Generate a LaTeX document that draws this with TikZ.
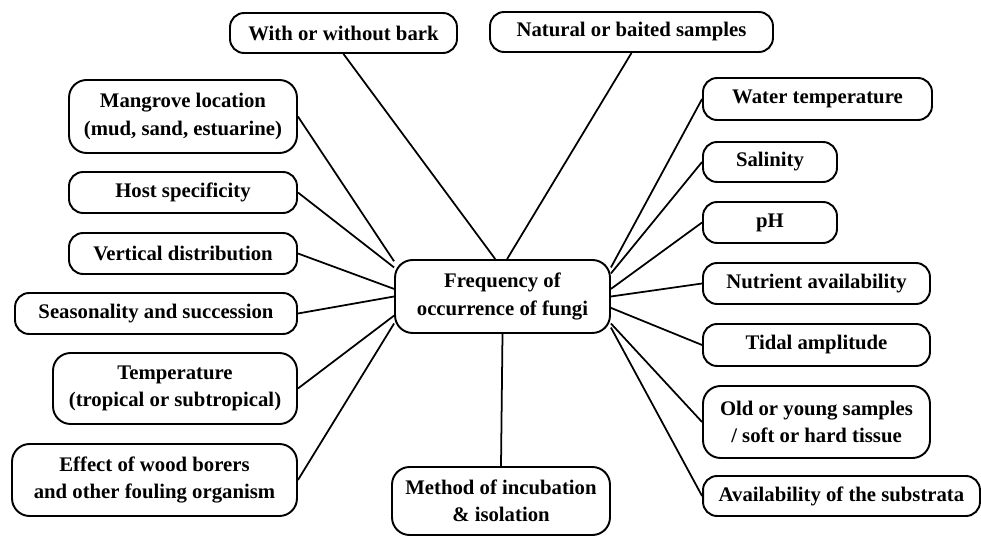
\documentclass[tikz,border=0pt]{standalone}
\usepackage{fontspec}
\setmainfont{Liberation Serif}
\usetikzlibrary{positioning}

\begin{document}
\begin{tikzpicture}[x=0.02cm,y=-0.02cm,line width=1.1pt]
\tikzset{factor/.style={draw,rounded corners=8pt,align=center,inner sep=2pt,
  font=\fontsize{11.8}{15.4}\selectfont\bfseries},
  link/.style={line width=1pt}}
\useasboundingbox (0,0) rectangle (981,536);
% centre
\node[factor,minimum width=4.3cm,minimum height=1.46cm,rounded corners=10pt] (freq) at (502.5,296.5) {Frequency of\\occurrence of fungi};
% top
\node[factor,minimum width=4.54cm,minimum height=0.8cm] (bark) at (343.5,33) {With or without bark};
\node[factor,minimum width=5.66cm,minimum height=0.8cm] (bait) at (631.5,32) {Natural or baited samples};
% left column
\node[factor,minimum width=4.56cm,minimum height=1.46cm,rounded corners=10pt] (mangrove) at (183,116.5) {Mangrove location\\(mud, sand, estuarine)};
\node[factor,minimum width=4.56cm,minimum height=0.82cm] (host) at (183,192.5) {Host specificity};
\node[factor,minimum width=4.56cm,minimum height=0.82cm] (vert) at (183,253.5) {Vertical distribution};
\node[factor,minimum width=5.64cm,minimum height=0.82cm] (season) at (156,313.5) {Seasonality and succession};
\node[factor,minimum width=4.88cm,minimum height=1.42cm,rounded corners=10pt] (temp) at (175,388.5) {Temperature\\(tropical or subtropical)};
\node[factor,minimum width=5.7cm,minimum height=1.44cm,rounded corners=10pt] (borer) at (154.5,480) {Effect of wood borers\\and other fouling organism};
% bottom
\node[factor,minimum width=4.36cm,minimum height=1.36cm,rounded corners=10pt] (method) at (501,501) {Method of incubation\\\& isolation};
% right column
\node[factor,minimum width=4.58cm,minimum height=0.84cm] (water) at (817.5,99) {Water temperature};
\node[factor,minimum width=2.68cm,minimum height=0.8cm] (salt) at (770,162) {Salinity};
\node[factor,minimum width=2.68cm,minimum height=0.82cm] (ph) at (770,222.5) {pH};
\node[factor,minimum width=4.54cm,minimum height=0.82cm] (nutrient) at (816.5,283.5) {Nutrient availability};
\node[factor,minimum width=4.54cm,minimum height=0.84cm] (tide) at (816.5,345) {Tidal amplitude};
\node[factor,minimum width=4.54cm,minimum height=1.44cm,rounded corners=10pt] (age) at (816.5,422) {Old or young samples\\/ soft or hard tissue};
\node[factor,minimum width=5.54cm,minimum height=0.8cm] (substrata) at (841.5,496) {Availability of the substrata};
% connectors
\draw[link] (bark.south) -- (freq.101.6);
\draw[link] (bait.south) -- (freq.83);
\draw[link] (mangrove.east) -- (freq.162.4);
\draw[link] (host.east) -- (freq.165.9);
\draw[link] (vert.east) -- (freq.176.5);
\draw[link] (season.east) -- (freq.180.8);
\draw[link] (temp.east) -- (freq.190.8);
\draw[link] (borer.east) -- (freq.194.1);
\draw[link] (freq.south) -- (method.north);
\draw[link] (water.west) -- (freq.15.6);
\draw[link] (salt.west) -- (freq.12.3);
\draw[link] (ph.west) -- (freq.4.5);
\draw[link] (nutrient.west) -- (freq.-0.8);
\draw[link] (tide.west) -- (freq.-6.1);
\draw[link] (age.west) -- (freq.-14.1);
\draw[link] (substrata.west) -- (freq.-16.9);
\end{tikzpicture}
\end{document}
